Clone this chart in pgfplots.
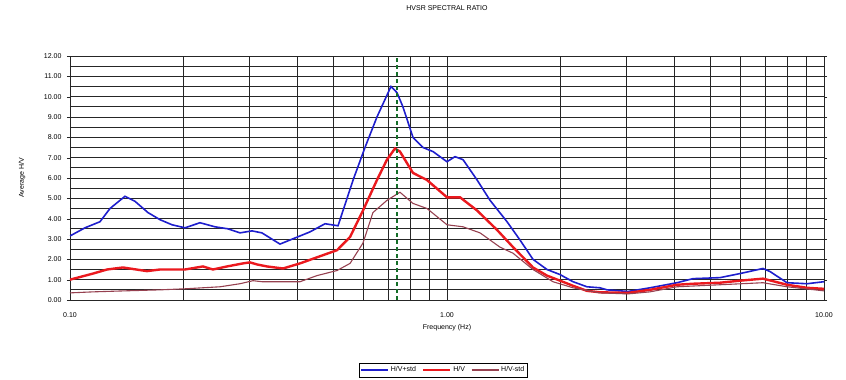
\documentclass[border=0pt]{standalone}
\usepackage{fontspec}
\setmainfont{Liberation Sans}
\usepackage{pgfplots}
\pgfplotsset{compat=1.18}
\definecolor{cblue}{RGB}{30,30,205}
\definecolor{cred}{RGB}{235,25,30}
\definecolor{cmaroon}{RGB}{150,65,80}
\definecolor{cgreen}{RGB}{20,110,40}
\begin{document}
\begin{tikzpicture}
\begin{axis}[
  scale only axis, width=754pt, height=244pt,
  xmode=log, xmin=0.1, xmax=10, ymin=0, ymax=12,
  xtick={0.1,1,10}, xticklabels={0.10,1.00,10.00},
  minor xtick={0.2,0.3,0.4,0.5,0.6,0.7,0.8,0.9,2,3,4,5,6,7,8,9},
  ytick={0,1,...,12}, minor ytick={0.5,1.5,...,11.5},
  yticklabel style={xshift=-2pt, /pgf/number format/.cd, fixed, fixed zerofill, precision=2},
  /pgf/number format/assume math mode=true,
  xmajorgrids, xminorgrids, ymajorgrids, yminorgrids,
  grid style={black!85, line width=0.8pt},
  major grid style={black!85, line width=0.8pt},
  minor grid style={black!85, line width=0.8pt},
  axis line style={black!85, line width=0.8pt},
  tick align=outside, major tick length=3pt, minor tick length=0pt,
  xtick style={draw=none},
  ytick style={black!85},
  tick label style={font=\fontsize{7}{8}\selectfont},
  xticklabel style={yshift=-6pt},
  title={HVSR SPECTRAL RATIO},
  title style={font=\fontsize{7}{8}\selectfont, at={(axis description cs:0.5,1)}, anchor=center, yshift=42pt},
  xlabel={Frequency (Hz)},
  xlabel style={font=\fontsize{7}{8}\selectfont, at={(axis description cs:0.5,-0.115)}, anchor=center},
  ylabel={Average H/V},
  ylabel style={font=\fontsize{7}{8}\selectfont, at={(axis description cs:-0.0637,0.5)}, anchor=center},
  legend style={at={(axis description cs:0.495,-0.287)}, anchor=center, legend columns=3,
    font=\fontsize{7}{8}\selectfont, draw=black, inner sep=1.5pt,
    /tikz/every even column/.append style={column sep=4pt}},
  legend image code/.code={\draw[#1] (0cm,0cm) -- (0.95cm,0cm);},
]
\addplot[cblue, line width=1.6pt] coordinates {
(0.1,3.15) (0.1096,3.55) (0.1201,3.85) (0.1277,4.5) (0.1399,5.1) (0.1488,4.85) (0.161,4.3) (0.1733,3.95) (0.1865,3.7) (0.2018,3.55) (0.2212,3.8) (0.2424,3.6) (0.2625,3.5) (0.2824,3.3) (0.3039,3.4) (0.323,3.3) (0.3606,2.75) (0.3953,3.05) (0.4331,3.35) (0.4748,3.75) (0.514,3.65) (0.53,4.4) (0.5635,5.9) (0.606,7.5) (0.652,9.0) (0.7102,10.5) (0.7368,10.2) (0.7642,9.5) (0.8123,8.0) (0.8636,7.5) (0.918,7.3) (1.0,6.8) (1.05,7.05) (1.103,6.9) (1.202,5.9) (1.301,4.9) (1.443,3.85) (1.562,2.95) (1.691,2.0) (1.842,1.5) (1.995,1.25) (2.159,0.9) (2.351,0.65) (2.546,0.6) (2.657,0.5) (3.021,0.42) (3.455,0.6) (4.074,0.85) (4.493,1.05) (5.299,1.1) (5.987,1.3) (6.89,1.55) (7.191,1.4) (7.98,0.85) (9.015,0.8) (10,0.9)
};
\addlegendentry{H/V+std}
\addplot[cred, line width=2.4pt] coordinates {
(0.1,1.0) (0.1151,1.3) (0.1254,1.5) (0.1382,1.6) (0.16,1.42) (0.1733,1.5) (0.2018,1.5) (0.2253,1.65) (0.2394,1.5) (0.2609,1.65) (0.2876,1.8) (0.3002,1.85) (0.3133,1.75) (0.3331,1.65) (0.3673,1.55) (0.4075,1.8) (0.4521,2.1) (0.5109,2.45) (0.5532,3.1) (0.5986,4.4) (0.652,5.9) (0.693,6.9) (0.7278,7.45) (0.7504,7.3) (0.8123,6.25) (0.885,5.9) (1.0,5.05) (1.083,5.05) (1.202,4.4) (1.357,3.45) (1.497,2.6) (1.691,1.6) (1.842,1.2) (1.995,0.95) (2.159,0.7) (2.351,0.45) (2.546,0.38) (3.021,0.35) (3.455,0.5) (4.074,0.75) (4.493,0.8) (5.299,0.85) (5.987,0.95) (6.89,1.05) (7.98,0.75) (9.015,0.6) (10,0.55)
};
\addlegendentry{H/V}
\addplot[cmaroon, line width=1.1pt] coordinates {
(0.1,0.35) (0.1151,0.4) (0.1399,0.45) (0.1733,0.5) (0.2018,0.55) (0.25,0.65) (0.2824,0.8) (0.3057,0.95) (0.323,0.9) (0.4075,0.9) (0.4521,1.2) (0.5109,1.45) (0.5532,1.8) (0.5986,2.8) (0.6362,4.3) (0.693,4.9) (0.7504,5.3) (0.8123,4.75) (0.885,4.5) (1.0,3.7) (1.103,3.6) (1.224,3.3) (1.382,2.6) (1.497,2.3) (1.691,1.5) (1.91,0.9) (2.159,0.6) (2.546,0.35) (3.021,0.3) (3.455,0.4) (4.074,0.65) (5.299,0.75) (6.89,0.85) (7.98,0.65) (10,0.45)
};
\addlegendentry{H/V-std}
\addplot[cgreen, line width=1.3pt, dash pattern=on 4pt off 3pt, forget plot] coordinates {(0.737,0) (0.737,12)};
\end{axis}
\pgfresetboundingbox
\path (-70pt,-80pt) rectangle (776pt,300pt);
\end{tikzpicture}
\end{document}
